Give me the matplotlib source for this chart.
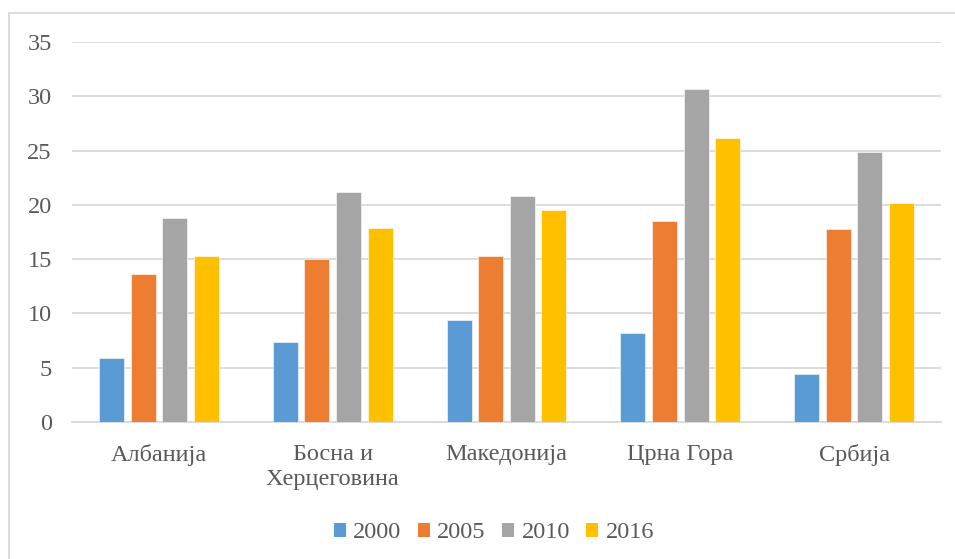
import matplotlib
matplotlib.use("Agg")
import matplotlib.pyplot as plt
from matplotlib.patches import Rectangle, Patch
import numpy as np

categories = ["Албанија", "Босна и\nХерцеговина", "Македонија", "Црна Гора", "Србија"]
years = ["2000", "2005", "2010", "2016"]
v2000 = [5.9, 7.4, 9.4, 8.2, 4.4]
v2005 = [13.6, 15.0, 15.3, 18.5, 17.8]
v2010 = [18.8, 21.2, 20.8, 30.7, 24.9]
v2016 = [15.3, 17.9, 19.5, 26.2, 20.2]
series = [v2000, v2005, v2010, v2016]
colors = ["#5B9BD5", "#ED7D31", "#A5A5A5", "#FFC000"]
yticks = [0, 5, 10, 15, 20, 25, 30, 35]

plt.rcParams['font.family'] = ['Liberation Serif', 'DejaVu Serif']
txt = "#595959"

W, H = 955, 559
fig = plt.figure(figsize=(W / 100, H / 100), dpi=100)
fig.patch.set_facecolor("white")

# outer chart frame (cropped on right and bottom)
fig.patches.append(Rectangle((9 / W, -0.1), 1.2, 1 - 13 / H + 0.1,
                             transform=fig.transFigure, fill=False,
                             edgecolor="#D9D9D9", linewidth=1.3, zorder=0))

ax = fig.add_axes([72 / W, 1 - 422 / H, (941 - 72) / W, (422 - 42) / H])
x = np.arange(len(categories))
step = 0.182
width = 0.144
for i, (vals, c) in enumerate(zip(series, colors)):
    ax.bar(x + (i - 1.5) * step, vals, width=width, color=c, zorder=3,
           edgecolor="white", linewidth=0.4)

ax.set_xlim(-0.5, len(categories) - 0.5)
ax.set_ylim(0, 35)
ax.set_yticks(yticks)
ax.yaxis.grid(True, color="#D9D9D9", linewidth=1.3, zorder=0)
ax.set_axisbelow(True)
for s in ["top", "right", "left"]:
    ax.spines[s].set_visible(False)
ax.spines["bottom"].set_color("#D9D9D9")
ax.spines["bottom"].set_linewidth(1.3)
ax.tick_params(axis="both", length=0, colors=txt)
ax.tick_params(axis="y", labelsize=17.5, pad=14.5)
ax.tick_params(axis="x", labelsize=17.5, pad=16)
ax.set_xticks(x)
ax.set_xticklabels(categories, linespacing=1.25)

handles = [Patch(facecolor=c, edgecolor="none", label=y) for c, y in zip(colors, years)]
leg = fig.legend(handles=handles, loc="center", bbox_to_anchor=(494 / W, 1 - 533 / H),
                 ncol=4, frameon=False, fontsize=17.5, handlelength=0.5, handleheight=0.5,
                 handletextpad=0.3, columnspacing=0.67, borderaxespad=0)
for t in leg.get_texts():
    t.set_color(txt)

fig.savefig("out.png", dpi=100, facecolor="white")
